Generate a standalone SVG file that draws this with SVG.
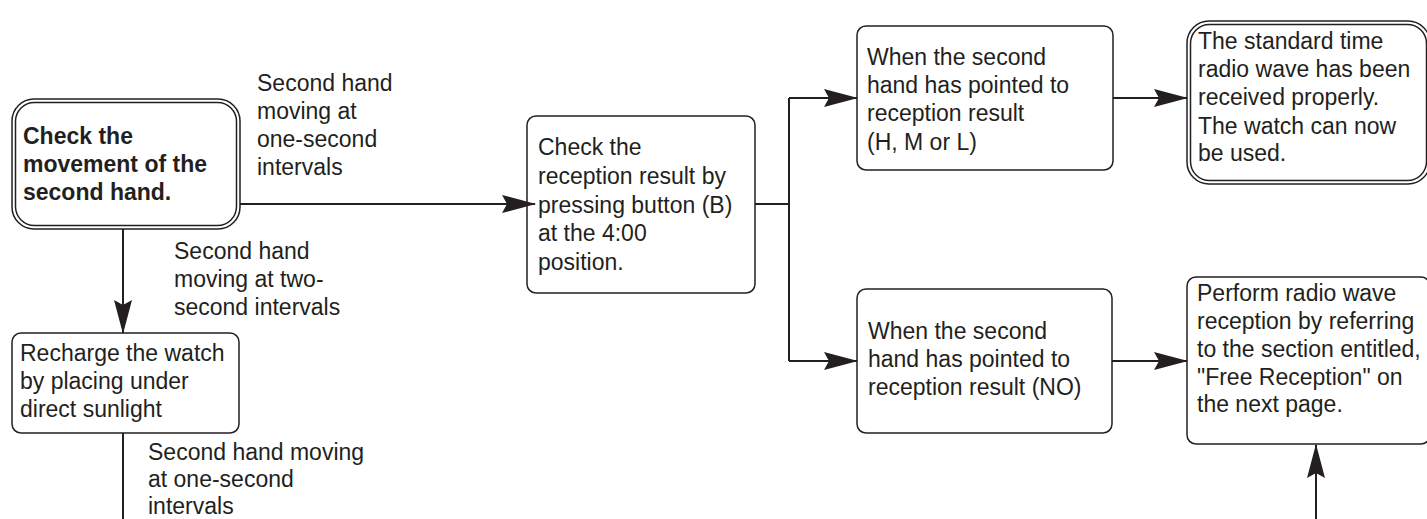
<svg xmlns="http://www.w3.org/2000/svg" width="1427" height="519" viewBox="0 0 1427 519">
<defs>
<marker id="arr" viewBox="0 0 34 18" refX="33" refY="9" markerWidth="34" markerHeight="18" markerUnits="userSpaceOnUse" orient="auto">
<path d="M0,0 L34,9 L0,18 L5,9 Z" fill="#231f20"/>
</marker>
<style>
.t{font-family:"Liberation Sans",Arial,sans-serif;font-size:23px;fill:#231f20}
.b{font-weight:bold}
.box{fill:#fff;stroke:#231f20;stroke-width:1.5}
.ln{fill:none;stroke:#231f20;stroke-width:2}
</style>
</defs>
<rect width="1427" height="519" fill="#fff"/>

<g id="label1" class="t">
<text x="257" y="91">Second hand</text>
<text x="257" y="119">moving at</text>
<text x="257" y="147">one-second</text>
<text x="257" y="175">intervals</text>
</g>
<g id="label2" class="t">
<text x="174" y="259">Second hand</text>
<text x="174" y="287">moving at two-</text>
<text x="174" y="315">second intervals</text>
</g>
<g id="label3" class="t">
<text x="148" y="460">Second hand moving</text>
<text x="148" y="487">at one-second</text>
<text x="148" y="514">intervals</text>
</g>

<g id="check-movement">
<rect class="box" x="12" y="99" width="228" height="130" rx="22"/>
<rect class="box" x="15.5" y="102.5" width="221" height="123" rx="19"/>
<text class="t b" x="23" y="144">Check the</text>
<text class="t b" x="23" y="172">movement of the</text>
<text class="t b" x="23" y="200">second hand.</text>
</g>

<g id="check-reception">
<rect class="box" x="527" y="116" width="228" height="177" rx="9"/>
<text class="t" x="538" y="155">Check the</text>
<text class="t" x="538" y="184">reception result by</text>
<text class="t" x="538" y="213">pressing button (B)</text>
<text class="t" x="538" y="241">at the 4:00</text>
<text class="t" x="538" y="270">position.</text>
</g>

<g id="result-hml">
<rect class="box" x="857" y="26" width="256" height="144" rx="9"/>
<text class="t" x="867" y="65">When the second</text>
<text class="t" x="867" y="93">hand has pointed to</text>
<text class="t" x="867" y="121">reception result</text>
<text class="t" x="867" y="150">(H, M or L)</text>
</g>

<g id="received">
<rect class="box" x="1187" y="21" width="243" height="163" rx="22"/>
<rect class="box" x="1190.5" y="24.5" width="236" height="156" rx="19"/>
<text class="t" x="1198" y="49">The standard time</text>
<text class="t" x="1198" y="77">radio wave has been</text>
<text class="t" x="1198" y="105">received properly.</text>
<text class="t" x="1198" y="134">The watch can now</text>
<text class="t" x="1198" y="161">be used.</text>
</g>

<g id="result-no">
<rect class="box" x="857" y="289" width="255" height="144" rx="9"/>
<text class="t" x="868" y="339">When the second</text>
<text class="t" x="868" y="367">hand has pointed to</text>
<text class="t" x="868" y="395">reception result (NO)</text>
</g>

<g id="free-reception">
<rect class="box" x="1187" y="277" width="243" height="167" rx="9"/>
<text class="t" x="1197" y="301">Perform radio wave</text>
<text class="t" x="1197" y="329">reception by referring</text>
<text class="t" x="1197" y="357">to the section entitled,</text>
<text class="t" x="1197" y="385">"Free Reception" on</text>
<text class="t" x="1197" y="412">the next page.</text>
</g>

<g id="recharge">
<rect class="box" x="12" y="333" width="227" height="100" rx="9"/>
<text class="t" x="20" y="361">Recharge the watch</text>
<text class="t" x="20" y="389">by placing under</text>
<text class="t" x="20" y="417">direct sunlight</text>
</g>

<g id="connectors">
<path class="ln" d="M240,204 H535" marker-end="url(#arr)"/>
<path class="ln" d="M755,204 H789"/>
<path class="ln" d="M789,98 V361"/>
<path class="ln" d="M789,98 H857" marker-end="url(#arr)"/>
<path class="ln" d="M789,361 H857" marker-end="url(#arr)"/>
<path class="ln" d="M1113,98 H1187" marker-end="url(#arr)"/>
<path class="ln" d="M1112,361 H1187" marker-end="url(#arr)"/>
<path class="ln" d="M123,229 V333" marker-end="url(#arr)"/>
<path class="ln" d="M123,433 V519"/>
<path class="ln" d="M1316,519 V445" marker-end="url(#arr)"/>
</g>
</svg>
